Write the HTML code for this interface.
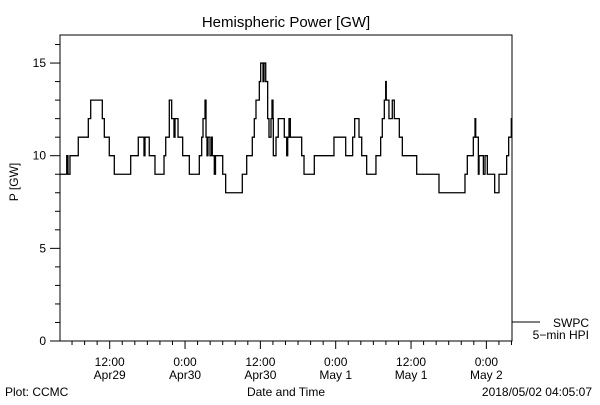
<!DOCTYPE html>
<html><head><meta charset="utf-8"><style>
body{margin:0;background:#fff;}
svg text{font-family:"Liberation Sans",sans-serif;fill:#000;}
</style></head><body>
<svg id="chart" width="600" height="400" xmlns="http://www.w3.org/2000/svg">
<rect width="600" height="400" fill="#fff"/>
<text x="286" y="27" font-size="15" text-anchor="middle">Hemispheric Power [GW]</text>
<text x="0" y="0" font-size="12" text-anchor="middle" transform="translate(18,182) rotate(-90)">P [GW]</text>
<text x="286" y="396" font-size="12" text-anchor="middle">Date and Time</text>
<text x="5" y="396" font-size="12">Plot: CCMC</text>
<text x="592" y="396" font-size="12" text-anchor="end">2018/05/02 04:05:07</text>
<rect x="60" y="35" width="452" height="306" fill="none" stroke="#000" stroke-width="1"/>
<g id="axes"></g>
<g id="series"></g>
<line x1="512" y1="322" x2="540" y2="322" stroke="#000"/>
<text x="589" y="327" font-size="12" text-anchor="end">SWPC</text>
<text x="589" y="339" font-size="12" text-anchor="end">5−min HPI</text>
</svg>
<script>
const times = [0,1.07,1.27,1.59,2.91,4.51,4.89,6.74,7.06,7.85,8.65,11.26,12.47,13.38,13.54,14.22,15.13,16.57,16.84,17.41,17.79,18.16,18.32,18.8,19.54,20.6,22.19,22.57,22.78,23.1,23.26,23.42,23.57,23.9,24.16,24.26,24.58,24.77,25.92,26.39,29.04,29.74,30.63,30.95,31.22,31.75,31.97,32.34,32.5,32.77,33.08,33.29,33.61,33.77,33.93,33.98,34.41,34.77,35.73,36.11,36.27,36.48,36.69,38.5,38.87,40.51,43.64,45.51,46.62,46.94,47.63,48.06,48.85,50.33,51.08,51.34,51.66,51.88,51.97,52.4,52.93,53.25,54.05,54.53,56.82,60.37,64.51,64.88,65.84,66.11,66.22,66.64,66.75,67.44,67.7,68.07,69.24,69.93,71.15,71.47,71.89];
const powerGW = [9,10,9,10,11,12,13,12,11,10,9,10,11,10,11,10,9,10,11,13,12,11,12,11,10,9,10,11,12,13,11,10,11,10,11,10,9,10,9,8,9,10,11,12,13,14,15,14,15,14,12,11,12,13,12,10,11,12,11,10,11,12,11,10,9,10,11,10,11,12,11,10,9,10,11,12,13,14,13,12,13,12,11,10,9,8,9,10,11,12,11,9,10,9,10,9,8,9,10,11,12];
const yTickValues = [0,5,10,15];
const xTickHours = [7.917,19.917,31.917,43.917,55.917,67.917];
const xTickTop = ["12:00","0:00","12:00","0:00","12:00","0:00"];
const xTickBottom = ["Apr29","Apr30","Apr30","May 1","May 1","May 2"];
const spanHours = 72;
const yMax = 16.5;

const NS="http://www.w3.org/2000/svg";
const L=60,R=512,B=341,T=35;
const x=h=>L+(h/spanHours)*(R-L);
const y=v=>B-v*18.53;
function mk(tag,attrs,parent){const e=document.createElementNS(NS,tag);for(const k in attrs)e.setAttribute(k,attrs[k]);parent.appendChild(e);return e;}
const axes=document.getElementById('axes');
// y minor ticks
for(let v=0;v<=16;v++){
  const major=yTickValues.includes(v);
  const t=mk('line',{x1:L-(major?10:5),x2:L,y1:y(v),y2:y(v),stroke:'#000'},axes);
  
  
}
yTickValues.forEach(v=>{
  const t=mk('text',{x:L-14,y:y(v)+4,'font-size':12,'text-anchor':'end'},axes);
  t.textContent=v;
  
  
});
// x minor ticks every 2 h aligned to majors
const off=xTickHours[0]%2;
for(let h=off;h<=spanHours;h+=2){
  const major=xTickHours.some(m=>Math.abs(m-h)<0.01);
  const t=mk('line',{x1:x(h),x2:x(h),y1:B,y2:B+(major?8:4),stroke:'#000'},axes);
  
  
}
xTickHours.forEach((h,i)=>{
  const a=mk('text',{x:x(h),y:366,'font-size':12,'text-anchor':'middle'},axes);
  a.textContent=xTickTop[i];
  
  
  const b=mk('text',{x:x(h),y:379,'font-size':12,'text-anchor':'middle'},axes);
  b.textContent=xTickBottom[i];
  
  
});
// step series
let d='';
for(let i=0;i<times.length;i++){
  const x0=x(times[i]),x1=x(i+1<times.length?times[i+1]:spanHours),yy=y(powerGW[i]);
  d+=(i===0?'M':'L')+x0.toFixed(2)+','+yy.toFixed(2)+'L'+x1.toFixed(2)+','+yy.toFixed(2);
}
const p=mk('path',{d:d,fill:'none',stroke:'#000','stroke-width':1.3},document.getElementById('series'));


</script>
</body></html>
